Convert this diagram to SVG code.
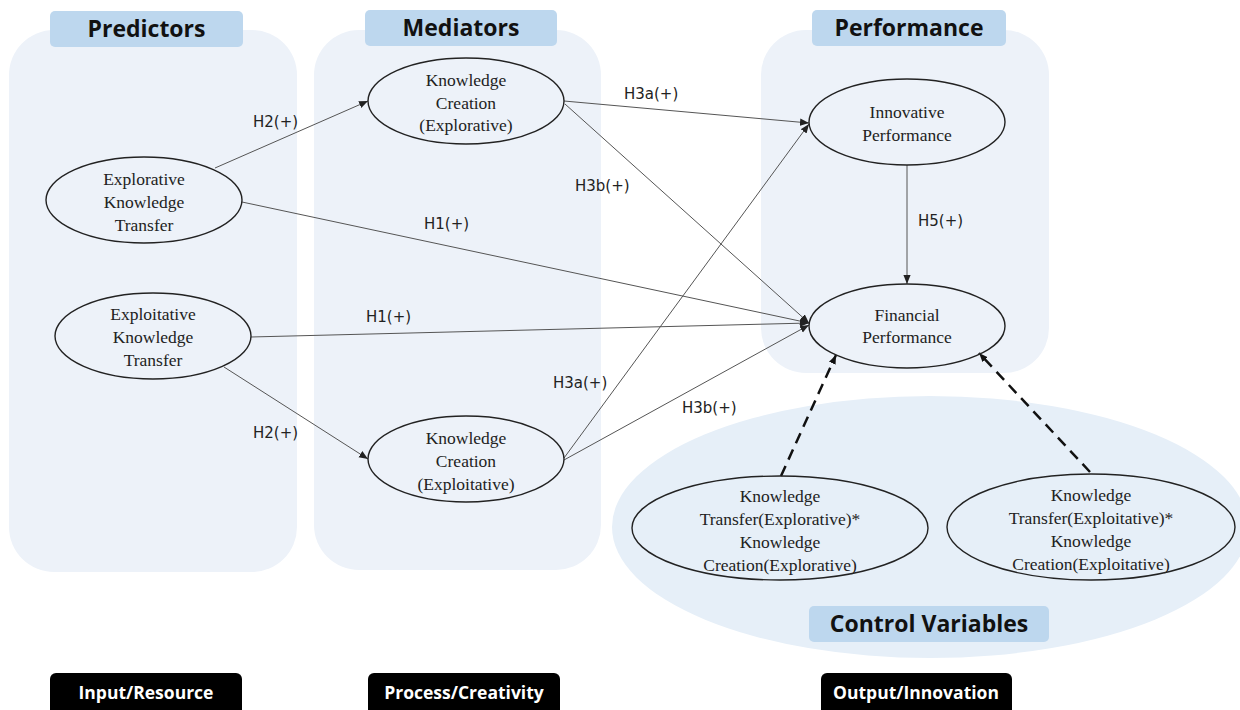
<svg xmlns="http://www.w3.org/2000/svg" width="1240" height="710" viewBox="0 0 1240 710">
<defs>
<marker id="ah" viewBox="0 0 10 10" refX="10" refY="5" markerWidth="9" markerHeight="9" markerUnits="userSpaceOnUse" orient="auto"><path d="M0,1 L10,5 L0,9 z" fill="#222"/></marker>
<marker id="ahd" viewBox="0 0 10 10" refX="10" refY="5" markerWidth="9" markerHeight="9" markerUnits="userSpaceOnUse" orient="auto"><path d="M0,1 L10,5 L0,9 z" fill="#111"/></marker>
<style>
.panel{fill:#edf2f9}
.tbox{fill:#bdd7ee}
.title{font-family:"Open Sans","Noto Sans",sans-serif;font-weight:bold;font-size:23px;fill:#111;text-anchor:middle}
.node{fill:none;stroke:#222;stroke-width:1.4}
.nt{font-family:"Liberation Serif","Times New Roman",serif;font-size:17.5px;fill:#222;text-anchor:middle}
.lbl{font-family:"DejaVu Sans","Noto Sans",sans-serif;font-size:15px;fill:#222}
.edge{stroke:#555;stroke-width:1;fill:none;marker-end:url(#ah)}
.dash{stroke:#111;stroke-width:2.5;stroke-dasharray:11 7;fill:none;marker-end:url(#ahd)}
.bbox{fill:#000}
.bt{font-family:"Open Sans","Noto Sans",sans-serif;font-weight:bold;font-size:17.5px;fill:#fff;text-anchor:middle}
</style>
</defs>
<rect width="1240" height="710" fill="#fff"/>
<g id="backgrounds">
<rect class="panel" x="9" y="30" width="288" height="542" rx="45"/>
<rect class="panel" x="314" y="30" width="287" height="540" rx="45"/>
<rect class="panel" x="761" y="30" width="288" height="343" rx="45"/>
<ellipse cx="930" cy="527" rx="318" ry="131" fill="#e6eff8"/>
</g>
<g id="titles">
<rect class="tbox" x="50" y="11" width="193" height="36" rx="5"/>
<text class="title" x="146.5" y="37">Predictors</text>
<rect class="tbox" x="365" y="10" width="192" height="36" rx="5"/>
<text class="title" x="461" y="36">Mediators</text>
<rect class="tbox" x="812" y="10" width="194" height="36" rx="5"/>
<text class="title" x="909" y="36">Performance</text>
<rect class="tbox" x="809" y="606" width="240" height="36" rx="5"/>
<text class="title" x="929" y="632">Control Variables</text>
</g>
<g id="connectors">
<line class="edge" x1="215" y1="168" x2="368" y2="101"/>
<line class="edge" x1="242" y1="202" x2="809" y2="323"/>
<line class="edge" x1="251" y1="337" x2="809" y2="323"/>
<line class="edge" x1="224" y1="367" x2="368" y2="459"/>
<line class="edge" x1="564" y1="101" x2="809" y2="123"/>
<line class="edge" x1="565" y1="104" x2="809" y2="323"/>
<line class="edge" x1="564" y1="458" x2="809" y2="124"/>
<line class="edge" x1="564" y1="460" x2="809" y2="325"/>
<line class="edge" x1="907" y1="165" x2="907" y2="284"/>
<line class="dash" x1="781" y1="476" x2="836" y2="355"/>
<line class="dash" x1="1090" y1="472" x2="979" y2="353"/>
</g>
<g id="labels">
<text class="lbl" x="253" y="127">H2(+)</text>
<text class="lbl" x="424" y="229">H1(+)</text>
<text class="lbl" x="575" y="191">H3b(+)</text>
<text class="lbl" x="624" y="99">H3a(+)</text>
<text class="lbl" x="918" y="226">H5(+)</text>
<text class="lbl" x="366" y="322">H1(+)</text>
<text class="lbl" x="253" y="438">H2(+)</text>
<text class="lbl" x="553" y="388">H3a(+)</text>
<text class="lbl" x="682" y="413">H3b(+)</text>
</g>
<g id="n-explorative-kt">
<ellipse class="node" cx="144" cy="200" rx="98" ry="43"/>
<text class="nt" x="144" y="185">Explorative</text>
<text class="nt" x="144" y="208">Knowledge</text>
<text class="nt" x="144" y="231">Transfer</text>
</g>
<g id="n-exploitative-kt">
<ellipse class="node" cx="153" cy="336" rx="98" ry="43"/>
<text class="nt" x="153" y="320">Exploitative</text>
<text class="nt" x="153" y="343">Knowledge</text>
<text class="nt" x="153" y="366">Transfer</text>
</g>
<g id="n-kc-explorative">
<ellipse class="node" cx="466" cy="101" rx="98" ry="43"/>
<text class="nt" x="466" y="86">Knowledge</text>
<text class="nt" x="466" y="109">Creation</text>
<text class="nt" x="466" y="131">(Explorative)</text>
</g>
<g id="n-kc-exploitative">
<ellipse class="node" cx="466" cy="459" rx="98" ry="43"/>
<text class="nt" x="466" y="444">Knowledge</text>
<text class="nt" x="466" y="467">Creation</text>
<text class="nt" x="466" y="490">(Exploitative)</text>
</g>
<g id="n-innovative">
<ellipse class="node" cx="907" cy="122" rx="98" ry="43"/>
<text class="nt" x="907" y="118">Innovative</text>
<text class="nt" x="907" y="141">Performance</text>
</g>
<g id="n-financial">
<ellipse class="node" cx="907" cy="326" rx="98" ry="42"/>
<text class="nt" x="907" y="321">Financial</text>
<text class="nt" x="907" y="343">Performance</text>
</g>
<g id="n-ctrl-explorative">
<ellipse class="node" cx="780" cy="528" rx="148" ry="52"/>
<text class="nt" x="780" y="502">Knowledge</text>
<text class="nt" x="780" y="525">Transfer(Explorative)*</text>
<text class="nt" x="780" y="548">Knowledge</text>
<text class="nt" x="780" y="571">Creation(Explorative)</text>
</g>
<g id="n-ctrl-exploitative">
<ellipse class="node" cx="1091" cy="527" rx="144" ry="53"/>
<text class="nt" x="1091" y="501">Knowledge</text>
<text class="nt" x="1091" y="524">Transfer(Exploitative)*</text>
<text class="nt" x="1091" y="547">Knowledge</text>
<text class="nt" x="1091" y="570">Creation(Exploitative)</text>
</g>
<g id="stages">
<rect class="bbox" x="50" y="673" width="192" height="42" rx="6"/>
<text class="bt" x="146" y="699">Input/Resource</text>
<rect class="bbox" x="368" y="673" width="192" height="42" rx="6"/>
<text class="bt" x="464" y="699">Process/Creativity</text>
<rect class="bbox" x="821" y="673" width="191" height="42" rx="6"/>
<text class="bt" x="916" y="699">Output/Innovation</text>
</g>
</svg>
